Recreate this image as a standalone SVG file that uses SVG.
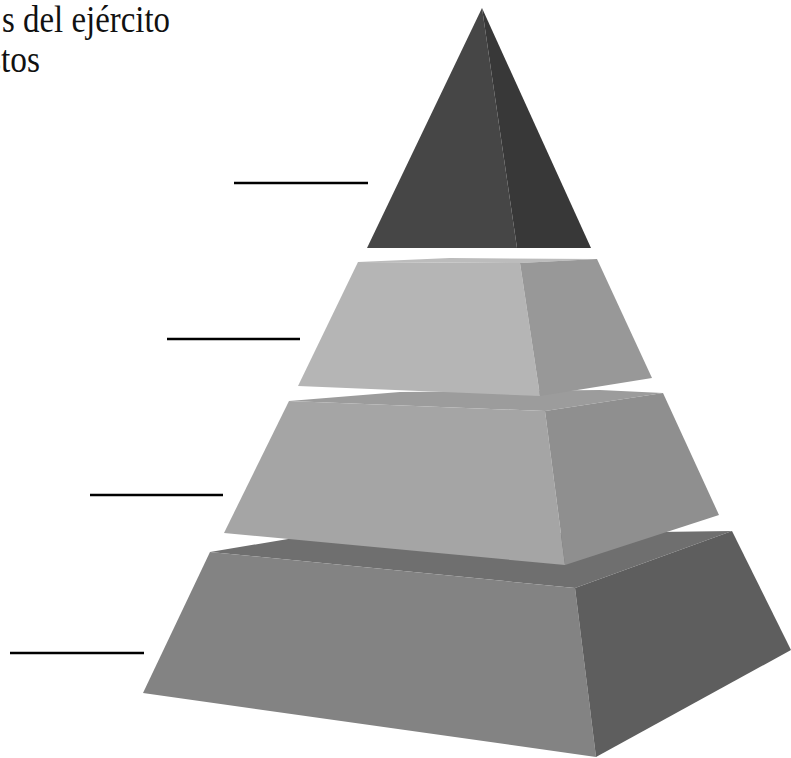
<svg xmlns="http://www.w3.org/2000/svg" width="791" height="758" viewBox="0 0 791 758">
  <style>
    .txt { font-family: "Liberation Serif", "DejaVu Serif", serif; font-size: 38px; fill: #111; }
    .lead { stroke: #000; stroke-width: 2.5; fill: none; }
  </style>
  <rect width="791" height="758" fill="#fff"/>
  <g id="title">
    <text class="txt" x="2" y="32" textLength="168" lengthAdjust="spacingAndGlyphs">s del ejército</text>
    <text class="txt" x="-12" y="72" textLength="52" lengthAdjust="spacingAndGlyphs">stos</text>
  </g>
  <g id="tier4">
    <polygon points="210,552 300,537 732,531 575,588" fill="#6f6f6f"/>
    <polygon points="210,552 575,588 596,757 143,693" fill="#838383"/>
    <polygon points="575,588 732,531 791,650 596,757" fill="#5e5e5e"/>
  </g>
  <g id="tier3">
    <polygon points="289,401 400,392 600,390 663,393 545,411" fill="#9c9c9c"/>
    <polygon points="289,401 545,411 565,565 224,533" fill="#a5a5a5"/>
    <polygon points="545,411 663,393 719,515 565,565" fill="#8f8f8f"/>
  </g>
  <g id="tier2">
    <polygon points="358,262 450,258 597,259 520,263" fill="#bcbcbc"/>
    <polygon points="358,262 520,263 540,396 298,386" fill="#b5b5b5"/>
    <polygon points="520,263 597,259 652,378 540,396" fill="#989898"/>
  </g>
  <g id="tier1">
    <polygon points="482,8 517,248 367,248" fill="#464646"/>
    <polygon points="482,8 591,248 517,248" fill="#383838"/>
  </g>
  <g id="connectors">
    <line class="lead" x1="234" y1="183" x2="368" y2="183"/>
    <line class="lead" x1="167" y1="339" x2="300" y2="339"/>
    <line class="lead" x1="90" y1="495" x2="223" y2="495"/>
    <line class="lead" x1="10" y1="653" x2="144" y2="653"/>
  </g>
</svg>
